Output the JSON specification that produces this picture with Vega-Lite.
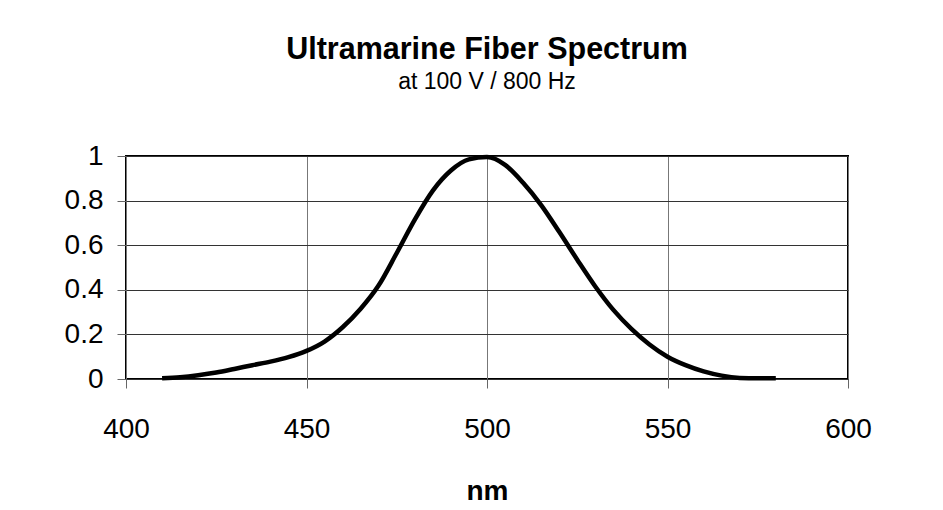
{
  "$schema": "https://vega.github.io/schema/vega-lite/v6.json",
  "width": 722,
  "height": 223,
  "autosize": "none",
  "padding": {"left": 126, "top": 156, "right": 95, "bottom": 131},
  "background": "white",
  "title": {
    "text": "Ultramarine Fiber Spectrum",
    "subtitle": "at 100 V / 800 Hz",
    "anchor": "middle",
    "font": "Liberation Sans",
    "fontSize": 30.5,
    "fontWeight": "bold",
    "color": "#000",
    "subtitleFont": "Liberation Sans",
    "subtitleFontSize": 23,
    "subtitleColor": "#000",
    "subtitlePadding": 6,
    "offset": 48
  },
  "data": {
    "values": [
      {"nm": 410, "v": 0.003},
      {"nm": 415, "v": 0.008},
      {"nm": 420, "v": 0.017},
      {"nm": 425, "v": 0.029},
      {"nm": 430, "v": 0.045},
      {"nm": 435, "v": 0.062},
      {"nm": 440, "v": 0.078},
      {"nm": 445, "v": 0.098},
      {"nm": 450, "v": 0.126},
      {"nm": 455, "v": 0.168},
      {"nm": 460, "v": 0.232},
      {"nm": 465, "v": 0.315},
      {"nm": 470, "v": 0.42},
      {"nm": 475, "v": 0.565},
      {"nm": 480, "v": 0.715},
      {"nm": 485, "v": 0.845},
      {"nm": 490, "v": 0.935},
      {"nm": 495, "v": 0.985},
      {"nm": 500, "v": 0.995},
      {"nm": 505, "v": 0.96},
      {"nm": 510, "v": 0.88},
      {"nm": 515, "v": 0.78},
      {"nm": 520, "v": 0.66},
      {"nm": 525, "v": 0.535},
      {"nm": 530, "v": 0.415},
      {"nm": 535, "v": 0.31},
      {"nm": 540, "v": 0.225},
      {"nm": 545, "v": 0.155},
      {"nm": 550, "v": 0.10},
      {"nm": 555, "v": 0.062},
      {"nm": 560, "v": 0.034},
      {"nm": 565, "v": 0.015},
      {"nm": 570, "v": 0.005},
      {"nm": 575, "v": 0.003},
      {"nm": 580, "v": 0.003}
    ]
  },
  "mark": {"type": "line", "color": "#000", "strokeWidth": 4.5, "interpolate": "monotone"},
  "encoding": {
    "x": {
      "field": "nm",
      "type": "quantitative",
      "scale": {"domain": [400, 600], "nice": false, "zero": false},
      "axis": {
        "values": [400, 450, 500, 550, 600],
        "title": "nm",
        "titleFont": "Liberation Sans",
        "titleFontSize": 28,
        "titleFontWeight": "bold",
        "titleColor": "#000",
        "titlePadding": 34,
        "labelFont": "Liberation Sans",
        "labelFontSize": 28,
        "labelColor": "#000",
        "labelPadding": 27,
        "labelFlush": false,
        "labelOverlap": false,
        "tickSize": 9,
        "tickColor": "#666",
        "domain": false,
        "grid": true,
        "gridColor": "#777",
        "gridWidth": 1
      }
    },
    "y": {
      "field": "v",
      "type": "quantitative",
      "scale": {"domain": [0, 1], "nice": false},
      "axis": {
        "values": [0, 0.2, 0.4, 0.6, 0.8, 1],
        "format": "~g",
        "title": null,
        "labelFont": "Liberation Sans",
        "labelFontSize": 28,
        "labelColor": "#000",
        "labelPadding": 14,
        "labelBaseline": "middle",
        "labelDy": 3,
        "labelFlush": false,
        "labelOverlap": false,
        "tickSize": 9,
        "tickColor": "#666",
        "domain": false,
        "grid": true,
        "gridColor": "#333",
        "gridWidth": 1
      }
    }
  },
  "config": {
    "view": {"stroke": "#000", "strokeWidth": 2}
  }
}
